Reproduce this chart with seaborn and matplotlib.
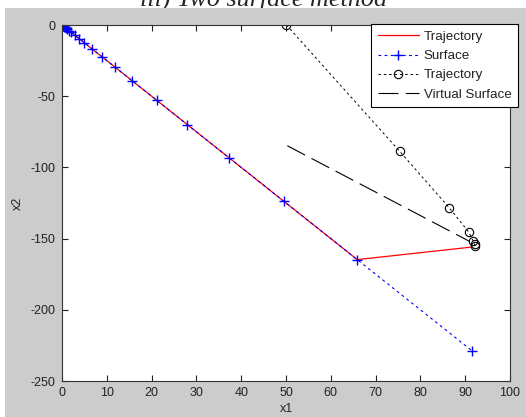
import numpy as np
import pandas as pd
import matplotlib
matplotlib.use("Agg")
import matplotlib.pyplot as plt
from matplotlib.patches import Rectangle
import seaborn as sns

# surface points (x1, x2)
surf_x1 = [0.0, 0.1, 0.2, 0.3, 0.5, 0.7, 0.9, 1.2, 1.6, 2.1, 2.8, 3.8, 5.0,
           6.7, 8.9, 11.8, 15.7, 21.1, 28.0, 37.3, 49.5, 65.9, 91.6]
surf_x2 = [0.0, -0.25, -0.5, -0.75, -1.25, -1.75, -2.25, -3.0, -4.0, -5.25,
           -7.0, -9.5, -12.5, -16.75, -22.25, -29.5, -39.25, -52.75, -70.0,
           -93.25, -123.75, -164.75, -229.0]

# first trajectory follows the surface then jumps right
traj1_x1 = surf_x1[:-1] + [91.3]
traj1_x2 = surf_x2[:-1] + [-156.0]

# second trajectory (circles)
traj2_x1 = [50.1, 75.4, 86.4, 90.8, 91.8, 92.1, 92.2]
traj2_x2 = [0.0, -88.8, -128.2, -145.5, -151.8, -154.0, -155.0]

# virtual surface
virt_x1 = [50.3, 91.0]
virt_x2 = [-84.8, -152.0]

sns.set_style("ticks")
plt.rcParams['font.family'] = ['Liberation Sans', 'DejaVu Sans']
plt.rcParams['axes.unicode_minus'] = False

fig = plt.figure(figsize=(5.26, 4.17), dpi=100, facecolor='white')
ax = fig.add_axes([62 / 526, 1 - 381 / 417, 448 / 526, 356 / 417])
ax.set_facecolor('white')

# grey window background with the title clipped behind it
fig.patches.append(Rectangle((5 / 526, 0), 1, 1 - 7.5 / 417, transform=fig.transFigure,
                             facecolor='#cccccc', edgecolor='none', zorder=-1))
fig.text(0.502, 1 - 6 / 417, 'iii) Two surface method', ha='center', va='baseline',
         fontsize=18.8, style='italic', family=['Liberation Serif'], zorder=-2)

txt = '#222222'

sns.lineplot(x=traj1_x1, y=traj1_x2, ax=ax, sort=False, estimator=None,
             color='red', linewidth=0.9, label='Trajectory')
sns.lineplot(x=surf_x1, y=surf_x2, ax=ax, sort=False, estimator=None,
             color='blue', linewidth=0.8, dashes=False, linestyle=(0, (2.5, 3)),
             marker='+', markersize=7.5, markeredgewidth=1.0,
             markeredgecolor='blue', label='Surface')
sns.lineplot(x=traj2_x1, y=traj2_x2, ax=ax, sort=False, estimator=None,
             color='black', linewidth=0.7, dashes=False, linestyle=(0, (2.5, 3)),
             marker='o', markersize=6, markerfacecolor='none',
             markeredgecolor='black', markeredgewidth=0.8, label='Trajectory')
sns.lineplot(x=virt_x1, y=virt_x2, ax=ax, sort=False, estimator=None,
             color='black', linewidth=0.8, dashes=False, linestyle=(0, (18, 6.5)),
             label='Virtual Surface')

ax.set_xlim(0, 100)
ax.set_ylim(-250, 0)
ax.set_xticks(np.arange(0, 101, 10))
ax.set_yticks(np.arange(-250, 1, 50))
ax.tick_params(direction='in', length=4, width=0.8, top=True, right=True,
               labelsize=9, colors=txt, pad=4.5)
for s in ax.spines.values():
    s.set_visible(True)
    s.set_linewidth(0.8)
    s.set_color('#333333')
ax.set_xlabel('x1', fontsize=9, color=txt, labelpad=3)
ax.set_ylabel('x2', fontsize=9, color=txt, labelpad=5)

leg = ax.legend(loc='upper right', bbox_to_anchor=(1.018, 1.003), borderaxespad=0,
                fancybox=False, framealpha=1, edgecolor='black', fontsize=9.6,
                handlelength=3.1, labelspacing=0.52, borderpad=0.5,
                handletextpad=0.35)
leg.get_frame().set_linewidth(0.8)
for t in leg.get_texts():
    t.set_color(txt)

fig.savefig('out.png', dpi=100, facecolor=fig.get_facecolor())
